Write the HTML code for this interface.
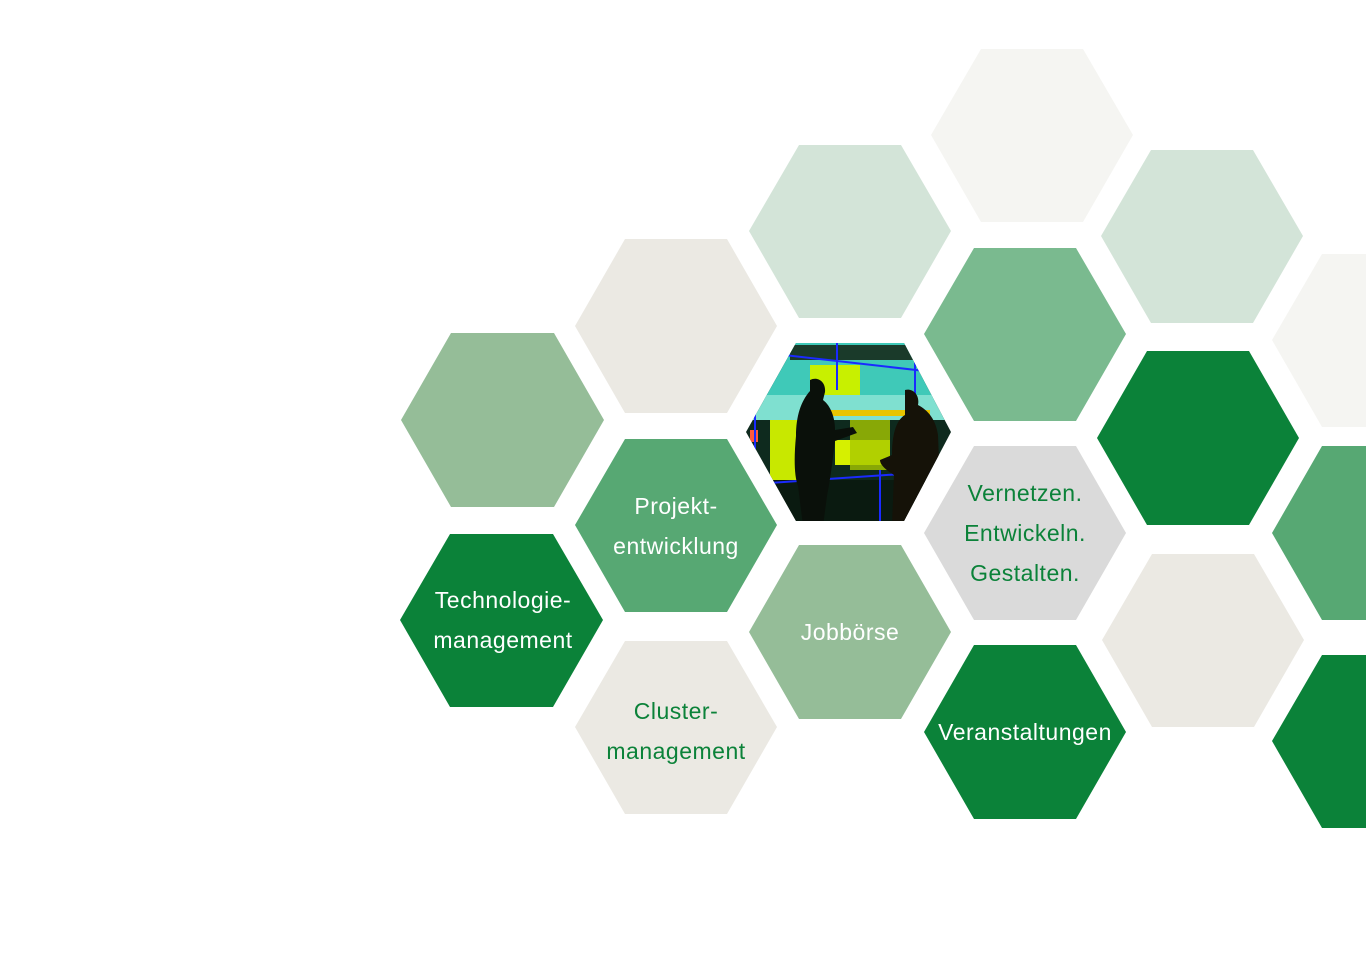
<!DOCTYPE html>
<html><head><meta charset="utf-8"><style>
html,body{margin:0;padding:0;background:#fff;width:1366px;height:954px;overflow:hidden}
svg{display:block}
text{font-family:"Liberation Sans",sans-serif;font-size:23px;text-anchor:middle;letter-spacing:0.5px}
</style></head><body>
<svg width="1366" height="954" viewBox="0 0 1366 954" xmlns="http://www.w3.org/2000/svg">
<defs>
<clipPath id="ph"><polygon points="746,432 796,343 904,343 951,432 904,521 796,521"/></clipPath>
</defs>
<g>
<polygon fill="#95bd98" points="401,420 451,333 554,333 604,420 554,507 451,507"/>
<polygon fill="#0b8239" points="400,620 450,534 553,534 603,620 553,707 450,707"/>
<polygon fill="#ebe9e3" points="575,326 625,239 727,239 777,326 727,413 625,413"/>
<polygon fill="#57a873" points="575,525 625,439 727,439 777,525 727,612 625,612"/>
<polygon fill="#ebe9e3" points="575,727 625,641 727,641 777,727 727,814 625,814"/>
<polygon fill="#d3e4d8" points="749,231 799,145 901,145 951,231 901,318 799,318"/>
<polygon fill="#95bd98" points="749,632 799,545 901,545 951,632 901,719 799,719"/>
<polygon fill="#f5f5f2" points="931,135 981,49 1083,49 1133,135 1083,222 981,222"/>
<polygon fill="#7aba8f" points="924,334 974,248 1076,248 1126,334 1076,421 974,421"/>
<polygon fill="#dadada" points="924,533 974,446 1076,446 1126,533 1076,620 974,620"/>
<polygon fill="#0b8239" points="924,732 974,645 1076,645 1126,732 1076,819 974,819"/>
<polygon fill="#d3e4d8" points="1101,236 1151,150 1253,150 1303,236 1253,323 1151,323"/>
<polygon fill="#0b8239" points="1097,438 1147,351 1249,351 1299,438 1249,525 1147,525"/>
<polygon fill="#ebe9e3" points="1102,640 1152,554 1254,554 1304,640 1254,727 1152,727"/>
<polygon fill="#f5f5f2" points="1272,340 1322,254 1424,254 1474,340 1424,427 1322,427"/>
<polygon fill="#57a873" points="1272,533 1322,446 1424,446 1474,533 1424,620 1322,620"/>
<polygon fill="#0b8239" points="1272,741 1322,655 1424,655 1474,741 1424,828 1322,828"/>
</g>
<g clip-path="url(#ph)">
<rect x="740" y="340" width="220" height="190" fill="#0e2a1e"/>
<rect x="740" y="340" width="220" height="60" fill="#3fc9b8"/>
<rect x="790" y="345" width="150" height="15" fill="#1a3a2a"/>
<rect x="740" y="395" width="220" height="25" fill="#7fe0d0"/>
<rect x="810" y="365" width="50" height="30" fill="#c8f000"/>
<rect x="770" y="420" width="60" height="60" fill="#c8e800"/>
<rect x="835" y="440" width="55" height="25" fill="#d6f000"/>
<rect x="820" y="410" width="110" height="6" fill="#e8c400"/>
<rect x="850" y="420" width="40" height="50" fill="#a8c800" opacity="0.8"/>
<rect x="750" y="430" width="8" height="12" fill="#ff5a3c"/>
<rect x="740" y="480" width="220" height="45" fill="#0a1a10"/>
<g stroke="#1a2aff" stroke-width="2" fill="none">
<line x1="740" y1="350" x2="960" y2="375"/><line x1="740" y1="485" x2="960" y2="470"/>
<line x1="837" y1="340" x2="837" y2="390"/><line x1="880" y1="470" x2="880" y2="525"/>
<line x1="755" y1="410" x2="755" y2="470"/><line x1="915" y1="340" x2="915" y2="400"/>
</g>
<path fill="#0a100a" d="M810,380 c8,-4 16,2 15,12 l-2,8 c8,6 12,18 12,30 l18,-3 4,6 -22,8 c-2,15 -4,35 -8,55 l-4,30 -20,0 -5,-40 c-4,-10 -4,-30 -2,-50 c0,-20 5,-35 14,-45 z"/>
<path fill="#151208" d="M905,390 c8,-2 15,5 13,15 c10,5 18,15 20,30 l2,50 -8,40 -40,0 2,-50 c-8,-5 -14,-10 -14,-15 l12,-5 c0,-20 4,-35 13,-40 z"/>
</g>
<g fill="#fff">
<text x="503" y="608">Technologie-</text>
<text x="503" y="648">management</text>
<text x="676" y="514">Projekt-</text>
<text x="676" y="554">entwicklung</text>
<text x="850" y="640">Jobbörse</text>
<text x="1025" y="740">Veranstaltungen</text>
</g>
<g fill="#0b8239">
<text x="676" y="719">Cluster-</text>
<text x="676" y="759">management</text>
<text x="1025" y="501">Vernetzen.</text>
<text x="1025" y="541">Entwickeln.</text>
<text x="1025" y="581">Gestalten.</text>
</g>
</svg>
</body></html>
